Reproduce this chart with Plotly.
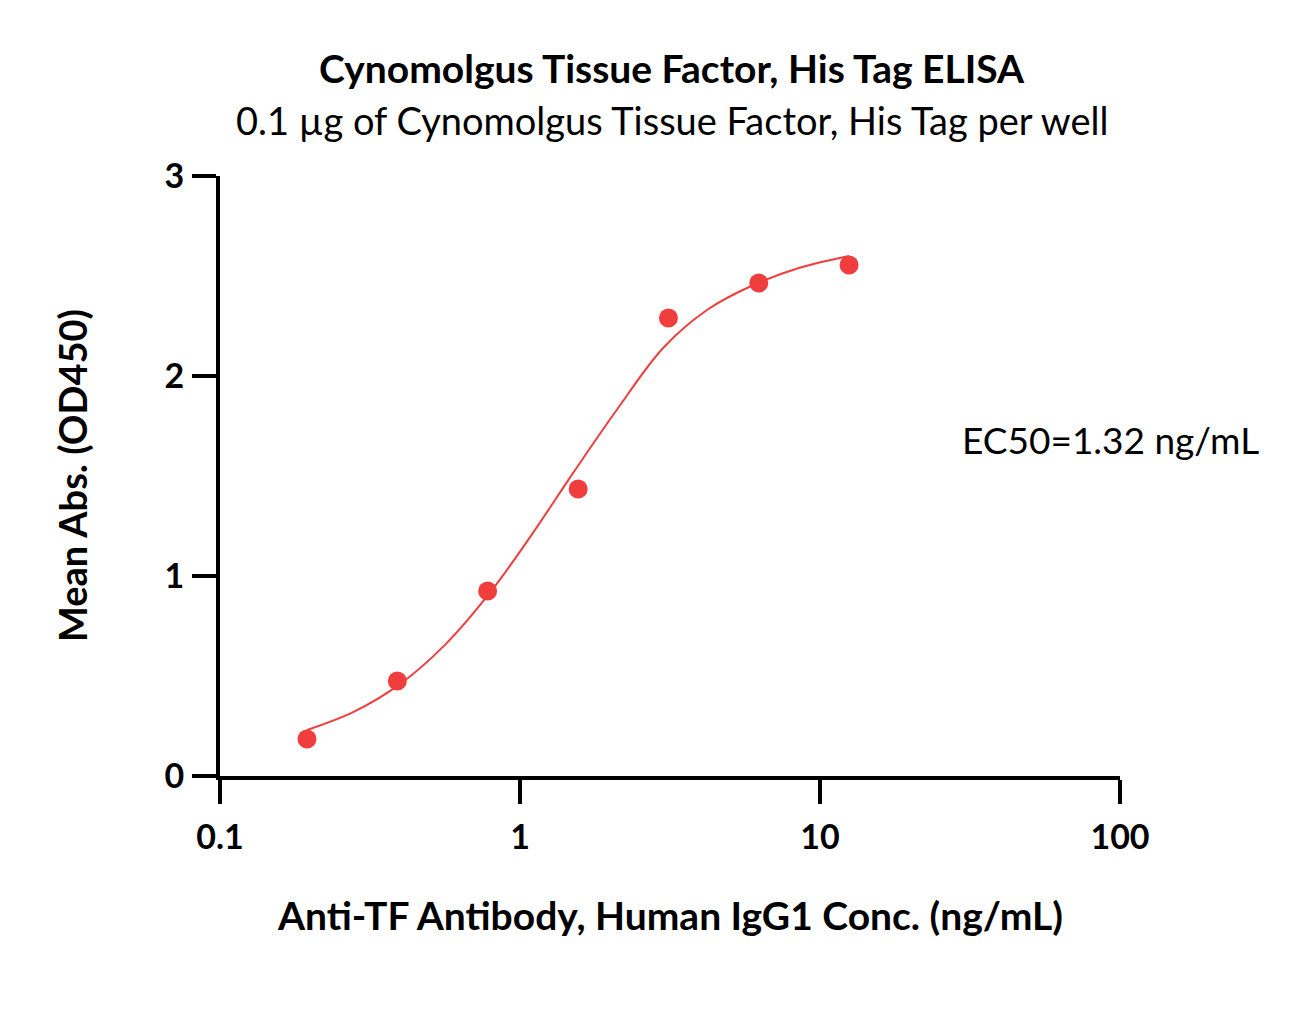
import plotly.graph_objects as go

# measured points (2-fold dilution series)
conc = [0.195, 0.39, 0.78, 1.5625, 3.125, 6.25, 12.5]
mean_abs = [0.185, 0.475, 0.925, 1.435, 2.29, 2.465, 2.555]

# fitted curve
fit_conc = [0.195, 0.28, 0.4, 0.56, 0.8, 1.1, 1.5, 2.1, 3.0, 4.2, 6.0, 8.5, 12.5]
fit_abs = [0.23, 0.322, 0.462, 0.653, 0.923, 1.212, 1.513, 1.83, 2.14, 2.33, 2.455, 2.54, 2.60]

x_ticks = [0.1, 1, 10, 100]
x_tick_labels = ["0.1", "1", "10", "100"]
y_ticks = [0, 1, 2, 3]

red = "rgb(240,62,62)"
text_font = "Lato"


def label(text, x, y, size, bold=False, **kw):
    return dict(
        text=text, x=x, y=y, xref="paper", yref="paper", showarrow=False,
        xanchor=kw.pop("xanchor", "center"), yanchor="middle",
        font=dict(family=text_font, size=size, color="black",
                  weight="bold" if bold else "normal"),
        **kw,
    )


fig = go.Figure()
fig.add_trace(go.Scatter(
    x=fit_conc, y=fit_abs, mode="lines",
    line=dict(color=red, width=2, shape="spline", smoothing=1.0),
    hoverinfo="skip",
))
fig.add_trace(go.Scatter(
    x=conc, y=mean_abs, mode="markers",
    marker=dict(color=red, size=19),
    hovertemplate="%{x} ng/mL: %{y}<extra></extra>",
))

fig.update_layout(
    width=1300, height=1032,
    margin=dict(l=212, r=188, t=168, b=264),
    paper_bgcolor="white", plot_bgcolor="white",
    showlegend=False,
    annotations=[
        label("Cynomolgus Tissue Factor, His Tag ELISA", 0.5017, 1.18, 39, bold=True),
        label("0.1 µg of Cynomolgus Tissue Factor, His Tag per well", 0.5017, 1.0933, 38),
        label("EC50=1.32 ng/mL", 0.822, 0.56, 37, xanchor="left"),
        label("Anti-TF Antibody, Human IgG1 Conc. (ng/mL)", 0.5, -0.2317, 39, bold=True),
        label("Mean Abs. (OD450)", -0.1644, 0.5, 38, bold=True, textangle=-90),
    ],
)
fig.update_xaxes(
    type="log", range=[-1, 2],
    tickvals=x_ticks, ticktext=x_tick_labels,
    showgrid=False, zeroline=False,
    showline=True, linecolor="black", linewidth=4,
    ticks="outside", ticklen=24, tickwidth=4, tickcolor="black",
    ticklabelstandoff=4,
    tickfont=dict(family=text_font, size=34, color="black", weight="bold"),
)
fig.update_yaxes(
    range=[0, 3],
    tickvals=y_ticks,
    showgrid=False, zeroline=False,
    showline=True, linecolor="black", linewidth=4,
    ticks="outside", ticklen=24, tickwidth=4, tickcolor="black",
    ticklabelstandoff=1,
    tickfont=dict(family=text_font, size=34, color="black", weight="bold"),
)

fig.write_html("out.html")
